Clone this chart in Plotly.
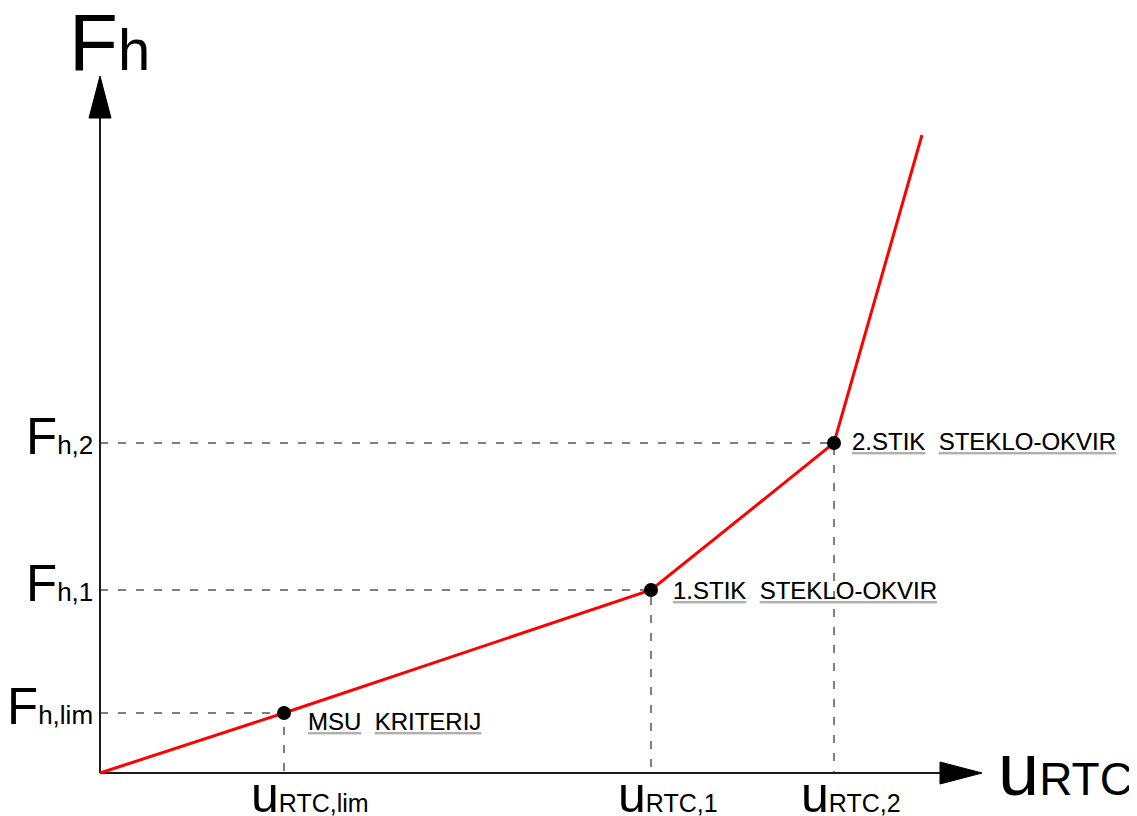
import plotly.graph_objects as go

# ---- data (arbitrary units: horizontal displacement u_RTC vs horizontal force F_h) ----
u_curve = [0, 184, 551, 734, 822]
f_curve = [0, 60, 183, 330, 638]

# characteristic points on the curve
point_u = [184, 551, 734]
point_f = [60, 183, 330]

# tick-style labels
f_tick_main = ["F", "F", "F"]
f_tick_sub = ["h,lim", "h,1", "h,2"]
u_tick_main = ["u", "u", "u"]
u_tick_sub = ["RTC,lim", "RTC,1", "RTC,2"]

# point descriptions (two underlined words each)
label_first = ["MSU", "1.STIK", "2.STIK"]
label_second = ["KRITERIJ", "STEKLO-OKVIR", "STEKLO-OKVIR"]

# axis extents (tip of the arrows)
u_axis_end = 882
f_axis_end = 697

# ---- style ----
FONT = "Liberation Sans, Arial, sans-serif"
AXIS_COLOR = "#1a1a1a"
DASH_COLOR = "#555555"
RED = "#ff0000"
ARROW_LEN = 42
ARROW_HALF = 11
label_dx = [22, 20, 16]      # pixel offset of point labels from the point
label_dy = [-8, 0, 2]

fig = go.Figure()

# dashed guide lines
for u, f in zip(point_u, point_f):
    fig.add_trace(go.Scatter(x=[0, u, u], y=[f, f, 0], mode="lines",
                             line=dict(color=DASH_COLOR, width=1.5, dash="8px,10px"),
                             hoverinfo="skip", showlegend=False))

# axes lines
fig.add_trace(go.Scatter(x=[0, 0], y=[0, f_axis_end - ARROW_LEN], mode="lines",
                         line=dict(color=AXIS_COLOR, width=2), hoverinfo="skip", showlegend=False))
fig.add_trace(go.Scatter(x=[0, u_axis_end - ARROW_LEN], y=[0, 0], mode="lines",
                         line=dict(color=AXIS_COLOR, width=2), hoverinfo="skip", showlegend=False))
# arrow heads
fig.add_trace(go.Scatter(x=[-ARROW_HALF, ARROW_HALF, 0, -ARROW_HALF],
                         y=[f_axis_end - ARROW_LEN, f_axis_end - ARROW_LEN, f_axis_end, f_axis_end - ARROW_LEN],
                         mode="lines", fill="toself", fillcolor="black",
                         line=dict(color="black", width=1), hoverinfo="skip", showlegend=False))
fig.add_trace(go.Scatter(x=[u_axis_end - ARROW_LEN, u_axis_end - ARROW_LEN, u_axis_end, u_axis_end - ARROW_LEN],
                         y=[-ARROW_HALF, ARROW_HALF, 0, -ARROW_HALF],
                         mode="lines", fill="toself", fillcolor="black",
                         line=dict(color="black", width=1), hoverinfo="skip", showlegend=False))

# curve
fig.add_trace(go.Scatter(x=u_curve, y=f_curve, mode="lines",
                         line=dict(color=RED, width=3), hoverinfo="skip", showlegend=False))
# points
fig.add_trace(go.Scatter(x=point_u, y=point_f, mode="markers",
                         marker=dict(color="black", size=14), hoverinfo="skip", showlegend=False))

ann = []
# F-axis labels
for f, m, s in zip(point_f, f_tick_main, f_tick_sub):
    ann.append(dict(x=-5, y=f, xref="x", yref="y", xanchor="right", yanchor="middle", yshift=7,
                    showarrow=False, font=dict(family=FONT, size=26, color="black"),
                    text=f'<span style="font-size:51px">{m}</span>{s}'))
# u-axis labels
for u, m, s in zip(point_u, u_tick_main, u_tick_sub):
    ann.append(dict(x=u, y=0, xref="x", yref="y", xanchor="left", yanchor="middle", xshift=-35, yshift=-22,
                    showarrow=False, font=dict(family=FONT, size=25, color="black"),
                    text=f'<span style="font-size:50px">{m}</span>{s}'))
# axis titles
ann.append(dict(x=-33, y=f_axis_end + 34, xref="x", yref="y", xanchor="left", yanchor="middle",
                showarrow=False, font=dict(family=FONT, size=58, color="black"),
                text='<span style="font-size:80px">F</span>h'))
ann.append(dict(x=u_axis_end + 14, y=0, xref="x", yref="y", xanchor="left", yanchor="middle", yshift=4,
                showarrow=False, font=dict(family=FONT, size=46, color="black"),
                text='<span style="font-size:74px">u</span>RTC'))
# point labels: light-gray underlined copy underneath, black text on top
UL = 'style="text-decoration:underline;text-underline-offset:4px"'
for u, f, a, b, dx, dy in zip(point_u, point_f, label_first, label_second, label_dx, label_dy):
    for col, txt in (("#b0b0b0", f"<span {UL}>{a}</span>\u00a0\u00a0<span {UL}>{b}</span>"),
                     ("black", f"{a}\u00a0\u00a0{b}")):
        ann.append(dict(x=u, y=f, xref="x", yref="y", xanchor="left", yanchor="middle",
                        xshift=dx, yshift=dy, showarrow=False,
                        font=dict(family=FONT, size=24, color=col), text=txt))

# the page body has an 8px margin, so the figure is 8px smaller and the ranges compensate
fig.update_layout(
    width=1129, height=808,
    margin=dict(l=0, r=0, t=0, b=0),
    paper_bgcolor="white", plot_bgcolor="white",
    xaxis=dict(range=[-92, 1037], visible=False, fixedrange=True),
    yaxis=dict(range=[-43, 765], visible=False, fixedrange=True),
    annotations=ann,
    showlegend=False,
)

fig.write_html("out.html")
